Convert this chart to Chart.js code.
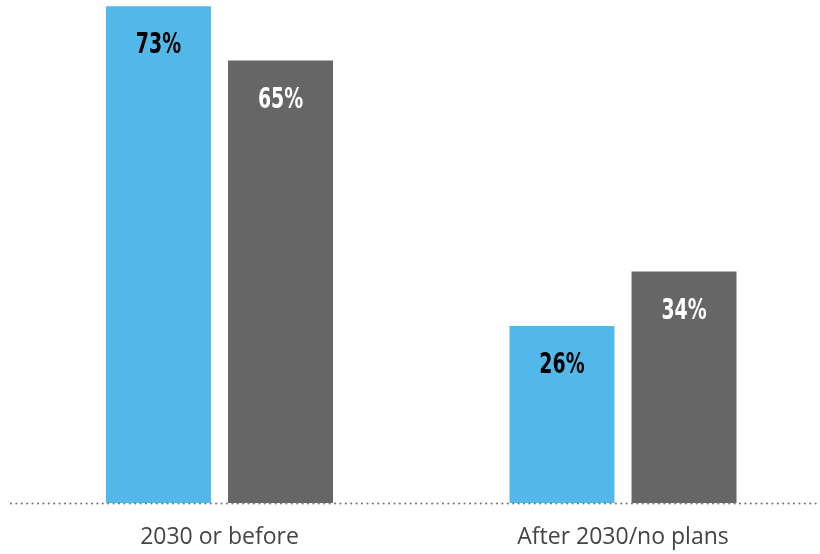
<!DOCTYPE html>
<html>
<head>
<meta charset="utf-8">
<script src="https://cdn.jsdelivr.net/npm/chart.js@4/dist/chart.umd.min.js"></script>
<style>
  html, body { margin: 0; padding: 0; background: #fff; overflow: hidden; }
  #wrap { position: relative; width: 830px; height: 554px; }
</style>
</head>
<body>
<div id="wrap"><canvas id="chart"></canvas></div>
<script>
const categories = ['2030 or before', 'After 2030/no plans'];
const seriesA = [73, 26];
const seriesB = [65, 34];
const seriesColors = ['#52b8e9', '#666666'];
const labelColors = ['#000000', '#ffffff'];

// draws the dotted baseline and the value labels inside each bar
const barLabels = {
  id: 'barLabels',
  afterDatasetsDraw(chart) {
    const ctx = chart.ctx;
    const y0 = chart.scales.y.getPixelForValue(0);
    ctx.save();
    ctx.fillStyle = '#777777';
    for (let x = 10; x < chart.width; x += 5.4) {
      ctx.beginPath();
      ctx.arc(x + 1, y0 + 0.5, 1.1, 0, Math.PI * 2);
      ctx.fill();
    }
    ctx.font = 'bold 28px "DejaVu Sans Condensed", "DejaVu Sans", sans-serif';
    ctx.textAlign = 'center';
    ctx.textBaseline = 'middle';
    chart.data.datasets.forEach((ds, i) => {
      chart.getDatasetMeta(i).data.forEach((bar, j) => {
        ctx.save();
        ctx.translate(bar.x, bar.y + 40);
        ctx.scale(0.75, 1);
        ctx.fillStyle = labelColors[i];
        ctx.fillText(ds.data[j] + '%', 0, 0);
        ctx.restore();
      });
    });
    ctx.restore();
  }
};

new Chart(document.getElementById('chart').getContext('2d'), {
  type: 'bar',
  data: {
    labels: categories,
    datasets: [
      { data: seriesA, backgroundColor: seriesColors[0], barPercentage: 0.86, categoryPercentage: 0.605 },
      { data: seriesB, backgroundColor: seriesColors[1], barPercentage: 0.86, categoryPercentage: 0.605 }
    ]
  },
  options: {
    responsive: true,
    maintainAspectRatio: false,
    animation: false,
    layout: { padding: { left: 17.75, right: 5.25, top: 0, bottom: 0 } },
    plugins: { legend: { display: false }, tooltip: { enabled: false } },
    scales: {
      x: {
        grid: { display: false, drawTicks: false },
        border: { display: false },
        ticks: { color: '#444444', font: { family: '"Open Sans", sans-serif', size: 23 }, padding: 21 },
        afterFit(scale) { scale.height = 51; }
      },
      y: {
        display: false,
        min: 0,
        max: 73.9
      }
    }
  },
  plugins: [barLabels]
});
</script>
</body>
</html>
